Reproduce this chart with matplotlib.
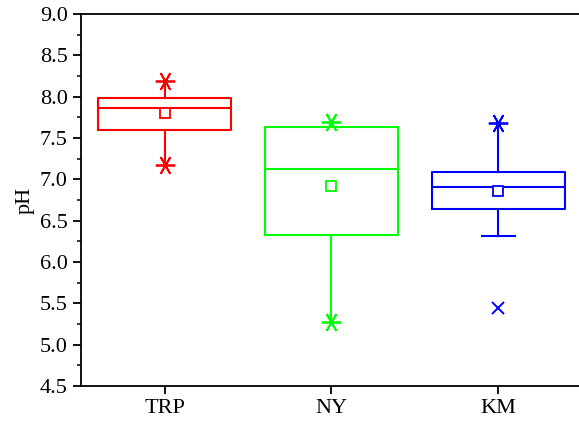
import matplotlib.pyplot as plt
from matplotlib.ticker import MultipleLocator

plt.rcParams['font.family'] = 'Liberation Serif'

# pH statistics per site
sites = ['TRP', 'NY', 'KM']
colors = ['#ff0000', '#00ff00', '#0000ff']
q1 = [7.60, 6.33, 6.64]
med = [7.87, 7.13, 6.91]
q3 = [7.99, 7.64, 7.09]
mean = [7.80, 6.92, 6.86]
whislo = [7.18, 5.28, 6.31]
whishi = [8.19, 7.70, 7.68]
# asterisk markers (min/max) and cross outliers
star_pts = [[7.18, 8.19], [5.28, 7.70], [7.68]]
cross_pts = [[], [], [5.44]]
capped_low = [False, False, True]

fig = plt.figure(figsize=(5.79, 4.24), dpi=100)
ax = fig.add_axes([0.14, 0.0896, 0.865, 0.877])

stats = []
for i in range(len(sites)):
    stats.append({'label': sites[i], 'q1': q1[i], 'med': med[i], 'q3': q3[i],
                  'mean': mean[i], 'whislo': whislo[i], 'whishi': whishi[i],
                  'fliers': []})

for i, s in enumerate(stats):
    c = colors[i]
    ax.bxp([s], positions=[i + 1], widths=0.8, showcaps=False, showmeans=True,
           showfliers=False,
           boxprops=dict(color=c, lw=1.5),
           whiskerprops=dict(color=c, lw=1.5),
           medianprops=dict(color=c, lw=1.5),
           meanprops=dict(marker='s', markerfacecolor='white', markeredgecolor=c,
                          markersize=7, markeredgewidth=1.3))
    ax.plot([i + 1] * len(star_pts[i]), star_pts[i], ls='none', marker=(6, 2, 30),
            color=c, markersize=14, markeredgewidth=1.3)
    if cross_pts[i]:
        ax.plot([i + 1] * len(cross_pts[i]), cross_pts[i], ls='none', marker='x',
                color=c, markersize=9, markeredgewidth=1.4)
    if capped_low[i]:
        ax.plot([i + 1 - 0.1, i + 1 + 0.1], [whislo[i], whislo[i]], color=c, lw=1.5)

ax.set_xlim(0.5, 3.5)
ax.set_ylim(4.5, 9.0)
ax.set_xticks([1, 2, 3])
ax.set_xticklabels(sites)
ax.yaxis.set_major_locator(MultipleLocator(0.5))
ax.yaxis.set_minor_locator(MultipleLocator(0.25))
ax.yaxis.set_major_formatter(plt.FormatStrFormatter('%.1f'))
ax.tick_params(axis='both', direction='out', labelsize=16, width=1.3, length=6)
ax.tick_params(axis='y', which='minor', direction='out', width=1.1, length=3)
ax.tick_params(axis='x', which='minor', bottom=False)
ax.set_ylabel('pH', fontsize=16, labelpad=4)
for sp in ax.spines.values():
    sp.set_linewidth(1.3)

fig.savefig('out.png', dpi=100)
